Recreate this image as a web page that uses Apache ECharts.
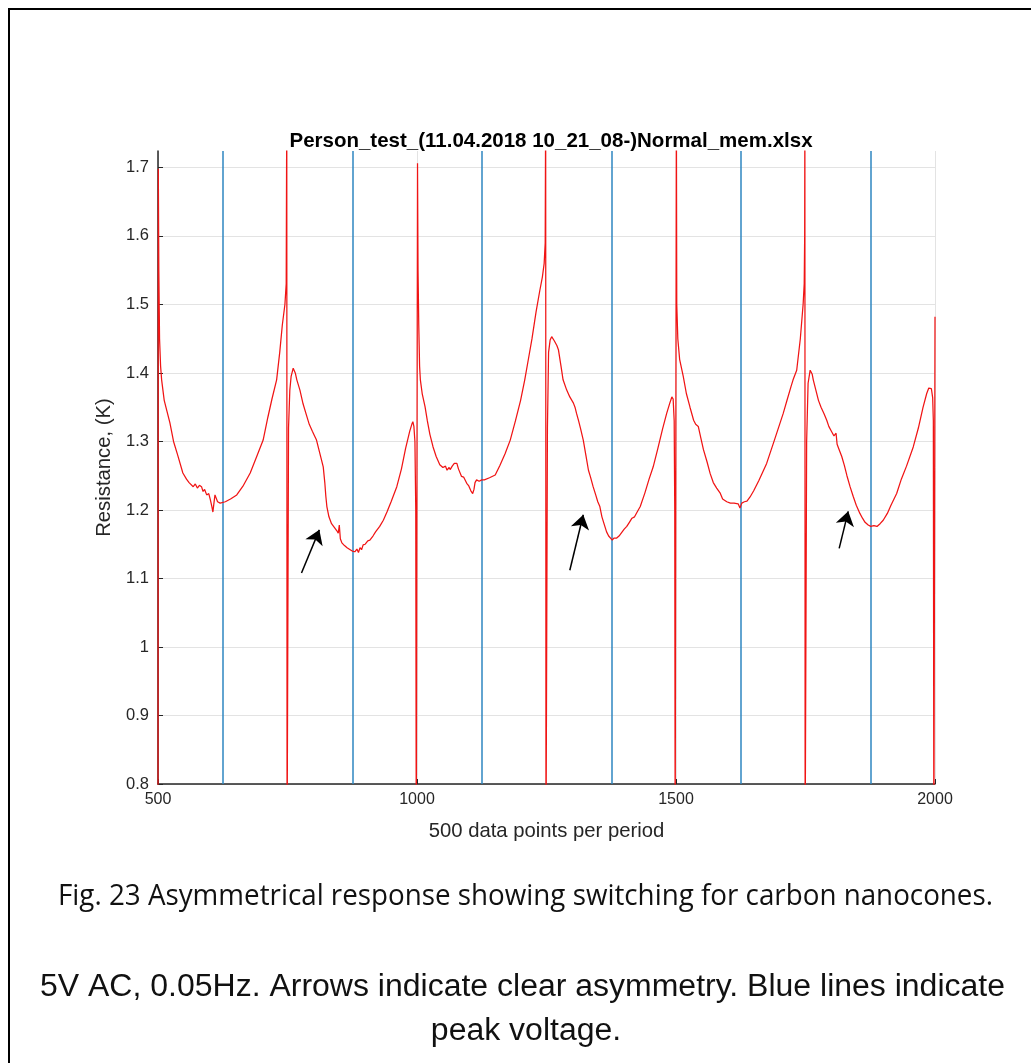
<!DOCTYPE html>
<html>
<head>
<meta charset="utf-8">
<title>Person_test_(11.04.2018 10_21_08-)Normal_mem.xlsx</title>
<script src="https://cdn.jsdelivr.net/npm/echarts@6/dist/echarts.min.js"></script>
<style>
  html, body { margin: 0; padding: 0; background: #ffffff; }
  #chart { width: 1031px; height: 1063px; }
</style>
</head>
<body>
<div id="chart"></div>
<script>
// Resistance (K) against sample index, 500 samples per AC period.
// Each half period is kept in its own list of [sample, resistance] pairs;
// values below 0.8 or above the axis top mark the switching spikes.
const halfPeriod1 = [
  [500, 0.70], [500.6, 1.698], [501.6, 1.55], [503, 1.45], [505, 1.41], [507, 1.39],
  [512, 1.36], [517, 1.345], [523, 1.327], [530, 1.30], [538, 1.28], [548, 1.254],
  [555, 1.245], [560, 1.24], [568, 1.234], [572, 1.238], [576, 1.232], [580, 1.236],
  [584, 1.234], [587, 1.227], [590, 1.230], [594, 1.222], [598, 1.224], [601, 1.215],
  [604, 1.205], [606, 1.197], [608, 1.21], [610, 1.222], [612, 1.218], [615, 1.212],
  [620, 1.210], [623, 1.21], [630, 1.212], [640, 1.216], [652, 1.222], [665, 1.236],
  [678, 1.254], [690, 1.277], [703, 1.302], [712, 1.335], [720, 1.362], [729, 1.39],
  [735, 1.43], [740, 1.47], [745, 1.50], [747.5, 1.53], [748.6, 1.80], [749.2, 0.70]
];
const halfPeriod2 = [
  [751.2, 0.70], [752, 1.32], [754.5, 1.375], [757, 1.395], [761, 1.407], [765, 1.40],
  [768, 1.39], [774, 1.375], [780, 1.355], [786, 1.34], [792, 1.325], [798, 1.315],
  [803, 1.307], [806, 1.302], [810, 1.29], [815, 1.275], [819, 1.263], [822, 1.24],
  [824, 1.22], [826, 1.205], [830, 1.19], [835, 1.18], [840, 1.175], [845, 1.17],
  [848, 1.166], [850, 1.178], [852, 1.158], [855, 1.152], [860, 1.148], [865, 1.145],
  [871, 1.142], [875, 1.14], [880, 1.139], [884, 1.143], [887, 1.138], [890, 1.145],
  [893, 1.142], [896, 1.149], [900, 1.15], [905, 1.155], [909, 1.156], [915, 1.162],
  [920, 1.168], [928, 1.176], [935, 1.185], [942, 1.197], [950, 1.212], [961, 1.234],
  [970, 1.26], [978, 1.29], [986, 1.315], [990, 1.325], [992, 1.329], [994, 1.322],
  [996, 1.30], [997.6, 1.20], [998.6, 0.70]
];
const halfPeriod3 = [
  [1000.4, 0.70], [1001, 1.706], [1002, 1.55], [1003.4, 1.47], [1005, 1.41], [1006.5, 1.39],
  [1010, 1.37], [1015.5, 1.351], [1020, 1.33], [1025, 1.31], [1031, 1.292], [1037, 1.278],
  [1044, 1.266], [1050, 1.262], [1055, 1.264], [1058, 1.258], [1062, 1.262], [1064, 1.259],
  [1068, 1.264], [1072, 1.268], [1077, 1.268], [1080, 1.26], [1086, 1.249], [1090, 1.248],
  [1096, 1.239], [1100, 1.235], [1104, 1.228], [1107.5, 1.224], [1110, 1.23], [1112, 1.24],
  [1115, 1.244], [1120, 1.242], [1125, 1.244], [1130, 1.244], [1140, 1.247], [1151, 1.251],
  [1160, 1.265], [1170, 1.282], [1180, 1.302], [1190, 1.33], [1200, 1.36], [1208, 1.39],
  [1215, 1.42], [1222, 1.45], [1230, 1.49], [1237, 1.52], [1242, 1.54], [1245.5, 1.56],
  [1247.5, 1.59], [1248.4, 1.80], [1249, 0.70]
];
const halfPeriod4 = [
  [1251, 0.70], [1251.8, 1.32], [1254, 1.43], [1257, 1.448], [1260, 1.453], [1265, 1.447],
  [1270, 1.44], [1273, 1.434], [1278, 1.41], [1282, 1.39], [1289, 1.375], [1295, 1.365],
  [1302, 1.356], [1305, 1.35], [1308, 1.341], [1312, 1.33], [1316, 1.318], [1321, 1.302],
  [1326, 1.28], [1331, 1.258], [1335, 1.248], [1340, 1.234], [1345, 1.222], [1349, 1.212],
  [1353, 1.205], [1357, 1.19], [1361, 1.18], [1366, 1.168], [1370, 1.162], [1373, 1.161],
  [1377, 1.156], [1380, 1.159], [1383, 1.157], [1385.5, 1.159], [1390, 1.162], [1395, 1.167],
  [1398, 1.165], [1400, 1.172], [1405, 1.176], [1410, 1.182], [1415, 1.188], [1420, 1.19],
  [1425, 1.197], [1431, 1.205], [1440, 1.225], [1448, 1.245], [1456, 1.263], [1465, 1.29],
  [1474, 1.318], [1482, 1.341], [1488, 1.356], [1492, 1.365], [1494.5, 1.362], [1496.5, 1.33],
  [1497.6, 1.20], [1498.4, 0.70]
];
const halfPeriod5 = [
  [1500, 0.70], [1500.7, 1.80], [1501.5, 1.50], [1503.5, 1.45], [1507, 1.42], [1514, 1.395],
  [1520, 1.37], [1527, 1.35], [1534, 1.331], [1538, 1.325], [1543, 1.322], [1548, 1.305],
  [1553, 1.288], [1560, 1.27], [1566, 1.253], [1572, 1.24], [1578.5, 1.232], [1585, 1.225],
  [1590, 1.216], [1598, 1.212], [1605, 1.21], [1612, 1.21], [1620, 1.209], [1623.5, 1.203],
  [1627, 1.21], [1632, 1.212], [1637, 1.213], [1643, 1.219], [1650, 1.228], [1660, 1.243],
  [1675, 1.268], [1690, 1.302], [1700, 1.325], [1707, 1.341], [1715, 1.362], [1722, 1.38],
  [1726, 1.39], [1733, 1.404], [1740, 1.45], [1745.5, 1.501], [1747.5, 1.53], [1748.4, 1.60],
  [1748.8, 1.80], [1749.3, 0.70]
];
const halfPeriod6 = [
  [1751.3, 0.70], [1752.2, 1.30], [1755, 1.385], [1759, 1.404], [1763, 1.398], [1765, 1.39],
  [1770, 1.375], [1775, 1.36], [1780, 1.35], [1786, 1.34], [1791, 1.331], [1795, 1.322],
  [1800, 1.315], [1805, 1.308], [1808, 1.306], [1809, 1.312], [1811, 1.296], [1815, 1.288],
  [1820, 1.278], [1825, 1.265], [1830, 1.25], [1836, 1.234], [1842, 1.22], [1848, 1.207],
  [1855, 1.195], [1860, 1.188], [1865, 1.182], [1871, 1.178], [1876, 1.176], [1882, 1.177],
  [1888, 1.176], [1894, 1.18], [1896, 1.178], [1900, 1.185], [1908, 1.195], [1915, 1.207],
  [1926, 1.224], [1935, 1.245], [1945, 1.264], [1958, 1.292], [1968, 1.32], [1977, 1.35],
  [1984, 1.37], [1988, 1.378], [1990, 1.38], [1993, 1.377], [1995.5, 1.364], [1996.8, 1.33],
  [1997.8, 0.70], [1999.4, 0.70], [2000, 1.482]
];

// Sample indices where the applied voltage peaks.
const peakVoltageSamples = [625, 875, 1125, 1375, 1625, 1875];

// Arrows marking the asymmetric descent: [tail, head] in data units.
const asymmetryArrows = [
  [[777, 1.108], [811.5, 1.171]],
  [[1295, 1.112], [1321, 1.193]],
  [[1815, 1.144], [1832.5, 1.198]]
];

const xTicks = { min: 500, max: 2000, step: 500 };
const yTicks = { min: 0.8, max: 1.724, step: 0.1 };

const captionLines = [
  'Fig. 23 Asymmetrical response showing switching for carbon nanocones.',
  '5V AC, 0.05Hz. Arrows indicate clear asymmetry. Blue lines indicate',
  'peak voltage.'
];

const resistanceTrace = [].concat(
  halfPeriod1, halfPeriod2, halfPeriod3, halfPeriod4, halfPeriod5, halfPeriod6
);

// Fit a caption line to a given width by scaling it horizontally.
const measureCtx = document.createElement('canvas').getContext('2d');
function fitScale(text, font, width) {
  measureCtx.font = font;
  return width / measureCtx.measureText(text).width;
}

const axisInk = '#262626';
const fontFamily = '"Liberation Sans", Arial, Helvetica, sans-serif';

const cap1Font = '29px "Open Sans", "Liberation Sans", sans-serif';
const cap2Font = '31px "Liberation Sans", Arial, sans-serif';
const cap2Scale = fitScale(captionLines[1], cap2Font, 965);

const chart = echarts.init(document.getElementById('chart'), null, { renderer: 'canvas' });

chart.setOption({
  animation: false,
  backgroundColor: '#ffffff',
  title: {
    text: 'Person_test_(11.04.2018 10_21_08-)Normal_mem.xlsx',
    left: 546,
    textAlign: 'center',
    top: 126,
    textStyle: { fontFamily: fontFamily, fontSize: 20.5, fontWeight: 'bold', color: '#000000' }
  },
  grid: { left: 158, right: 96, top: 151, bottom: 279, containLabel: false },
  xAxis: {
    type: 'value',
    min: xTicks.min,
    max: xTicks.max,
    interval: xTicks.step,
    name: '500 data points per period',
    nameLocation: 'middle',
    nameGap: 37,
    nameTextStyle: { fontFamily: fontFamily, fontSize: 20.3, color: axisInk },
    axisLine: { show: true, onZero: false, lineStyle: { color: axisInk, width: 1.5 } },
    axisTick: { show: true, inside: true, length: 5, lineStyle: { color: axisInk } },
    axisLabel: {
      fontFamily: fontFamily, fontSize: 16, color: axisInk, margin: 8,
      formatter: function (v) { return String(v); }
    },
    splitLine: { show: true, lineStyle: { color: '#e3e3e3', width: 1 } }
  },
  yAxis: {
    type: 'value',
    min: yTicks.min,
    max: yTicks.max,
    interval: yTicks.step,
    name: 'Resistance, (K)',
    nameLocation: 'middle',
    nameGap: 44,
    nameTextStyle: { fontFamily: fontFamily, fontSize: 20.3, color: axisInk },
    axisLine: { show: true, onZero: false, lineStyle: { color: axisInk, width: 1.5 } },
    axisTick: { show: true, inside: true, length: 5, lineStyle: { color: axisInk } },
    axisLabel: {
      fontFamily: fontFamily, fontSize: 16.5, color: axisInk, margin: 9,
      showMaxLabel: false,
      formatter: function (v) { return String(parseFloat(v.toFixed(1))); }
    },
    splitLine: { show: true, showMaxLine: false, lineStyle: { color: '#e3e3e3', width: 1 } }
  },
  series: [
    {
      name: 'Peak voltage',
      type: 'line',
      data: [],
      silent: true,
      markLine: {
        silent: true,
        symbol: ['none', 'none'],
        label: { show: false },
        lineStyle: { color: '#2e86c1', width: 1.5, type: 'solid' },
        data: peakVoltageSamples.map(function (s) { return { xAxis: s }; }),
        z: 2
      }
    },
    {
      name: 'Resistance',
      type: 'line',
      data: resistanceTrace,
      showSymbol: false,
      symbol: 'none',
      clip: true,
      lineStyle: { color: '#f01414', width: 1.25 },
      z: 3,
      markLine: {
        silent: true,
        symbol: ['none', 'arrow'],
        symbolSize: 14,
        label: { show: false },
        lineStyle: { color: '#000000', width: 1.5, type: 'solid' },
        itemStyle: { color: '#000000' },
        data: asymmetryArrows.map(function (a) {
          return [{ coord: a[0] }, { coord: a[1] }];
        })
      }
    }
  ],
  graphic: [
    {
      type: 'rect',
      shape: { x: 9, y: 9, width: 1200, height: 1200 },
      style: { fill: 'none', stroke: '#000000', lineWidth: 2 },
      silent: true
    },
    {
      type: 'text',
      x: 525.5, y: 897,
      scaleX: fitScale(captionLines[0], cap1Font, 935),
      style: { text: captionLines[0], font: cap1Font, fill: '#111111', align: 'center', verticalAlign: 'middle' },
      silent: true
    },
    {
      type: 'text',
      x: 522.5, y: 987,
      scaleX: cap2Scale,
      style: { text: captionLines[1], font: cap2Font, fill: '#111111', align: 'center', verticalAlign: 'middle' },
      silent: true
    },
    {
      type: 'text',
      x: 526, y: 1031,
      scaleX: cap2Scale,
      style: { text: captionLines[2], font: cap2Font, fill: '#111111', align: 'center', verticalAlign: 'middle' },
      silent: true
    }
  ]
});
</script>
</body>
</html>
